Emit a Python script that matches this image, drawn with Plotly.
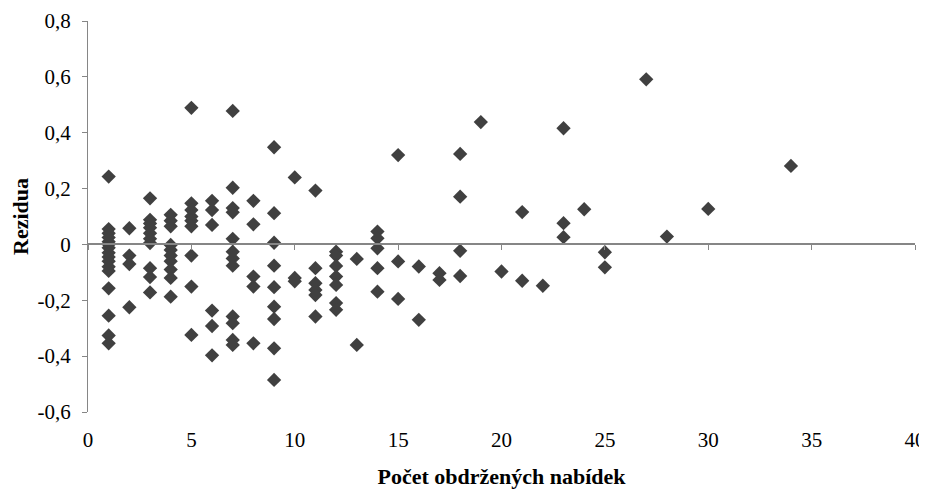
import plotly.graph_objects as go

# Number of offers received (x) and residuals (y)
pocet = (
    [1] * 16 + [2] * 4 + [3] * 10 + [4] * 10 + [5] * 9 + [6] * 6 + [7] * 12 +
    [8] * 5 + [9] * 9 + [10] * 3 + [11] * 6 + [12] * 7 + [13] * 2 + [14] * 5 +
    [15] * 3 + [16] * 2 + [17] * 2 + [18] * 4 + [19] + [20] + [21] * 2 + [22] +
    [23] * 3 + [24] + [25] * 2 + [27] + [28] + [30] + [34]
)
rezidua = [
    # 1
    0.243, 0.055, 0.04, 0.025, 0.01, 0.0, -0.012, -0.03, -0.045, -0.06, -0.08, -0.095,
    -0.157, -0.255, -0.326, -0.354,
    # 2
    0.058, -0.04, -0.07, -0.225,
    # 3
    0.165, 0.088, 0.075, 0.06, 0.04, 0.02, 0.005, -0.085, -0.117, -0.172,
    # 4
    0.106, 0.085, 0.065, -0.002, -0.02, -0.04, -0.06, -0.09, -0.12, -0.187,
    # 5
    0.489, 0.147, 0.123, 0.1, 0.085, 0.065, -0.04, -0.151, -0.324,
    # 6
    0.156, 0.123, 0.07, -0.237, -0.292, -0.397,
    # 7
    0.478, 0.203, 0.13, 0.115, 0.02, -0.026, -0.05, -0.076, -0.258, -0.282, -0.342, -0.36,
    # 8
    0.156, 0.072, -0.115, -0.151, -0.354,
    # 9
    0.348, 0.112, 0.006, -0.076, -0.153, -0.223, -0.267, -0.372, -0.485,
    # 10
    0.24, -0.12, -0.132,
    # 11
    0.193, -0.085, -0.139, -0.163, -0.181, -0.258,
    # 12
    -0.026, -0.04, -0.077, -0.115, -0.145, -0.21, -0.234,
    # 13
    -0.052, -0.36,
    # 14
    0.046, 0.022, -0.014, -0.085, -0.169,
    # 15
    0.32, -0.061, -0.195,
    # 16
    -0.079, -0.27,
    # 17
    -0.103, -0.127,
    # 18
    0.324, 0.171, -0.023, -0.113,
    # 19
    0.438,
    # 20
    -0.097,
    # 21
    0.116, -0.13,
    # 22
    -0.148,
    # 23
    0.416, 0.076, 0.026,
    # 24
    0.126,
    # 25
    -0.028, -0.082,
    # 27
    0.591,
    # 28
    0.028,
    # 30
    0.127,
    # 34
    0.281,
]

y_tick_vals = [-0.6, -0.4, -0.2, 0, 0.2, 0.4, 0.6, 0.8]
y_tick_text = ["-0,6", "-0,4", "-0,2", "0", "0,2", "0,4", "0,6", "0,8"]
x_tick_vals = [0, 5, 10, 15, 20, 25, 30, 35, 40]
x_tick_text = ["0", "5", "10", "15", "20", "25", "30", "35", "40"]

AXIS = "#868686"
FONT = "Liberation Serif"

fig = go.Figure()
fig.add_trace(go.Scatter(
    x=pocet, y=rezidua, mode="markers",
    marker=dict(symbol="diamond", size=11, color="#404040", line=dict(width=0)),
    showlegend=False, hoverinfo="x+y",
))
# invisible trace to activate the axis drawn on the zero line
fig.add_trace(go.Scatter(x=[0, 40], y=[0, 0], xaxis="x2", mode="none",
                         showlegend=False, hoverinfo="skip"))

fig.update_layout(
    width=919, height=481,
    margin=dict(l=80, r=12, t=13, b=77, autoexpand=False),
    paper_bgcolor="white", plot_bgcolor="white",
    font=dict(family=FONT, color="black", size=21),
    xaxis=dict(
        range=[0, 40], tickvals=x_tick_vals, ticktext=x_tick_text,
        showline=False, showgrid=False, zeroline=False, ticks="",
        ticklabelstandoff=13, automargin=False,
        title=dict(text="<b>Počet obdržených nabídek</b>", font=dict(size=22, family=FONT), standoff=22),
    ),
    xaxis2=dict(
        range=[0, 40], overlaying="x", anchor="free", position=0.6 / 1.4,
        side="bottom", tickvals=x_tick_vals, showticklabels=False,
        showline=True, linecolor=AXIS, linewidth=2, ticks="outside",
        tickcolor=AXIS, ticklen=5, tickwidth=1, showgrid=False, zeroline=False,
        automargin=False,
    ),
    yaxis=dict(
        range=[-0.6, 0.8], tickvals=y_tick_vals, ticktext=y_tick_text,
        showline=True, linecolor=AXIS, linewidth=1, ticks="outside",
        tickcolor=AXIS, ticklen=5, showgrid=False, zeroline=False,
        ticklabelstandoff=7, automargin=False,
        title=dict(text="<b>Rezidua</b>", font=dict(size=22, family=FONT), standoff=4),
    ),
)

fig.write_html("out.html")
